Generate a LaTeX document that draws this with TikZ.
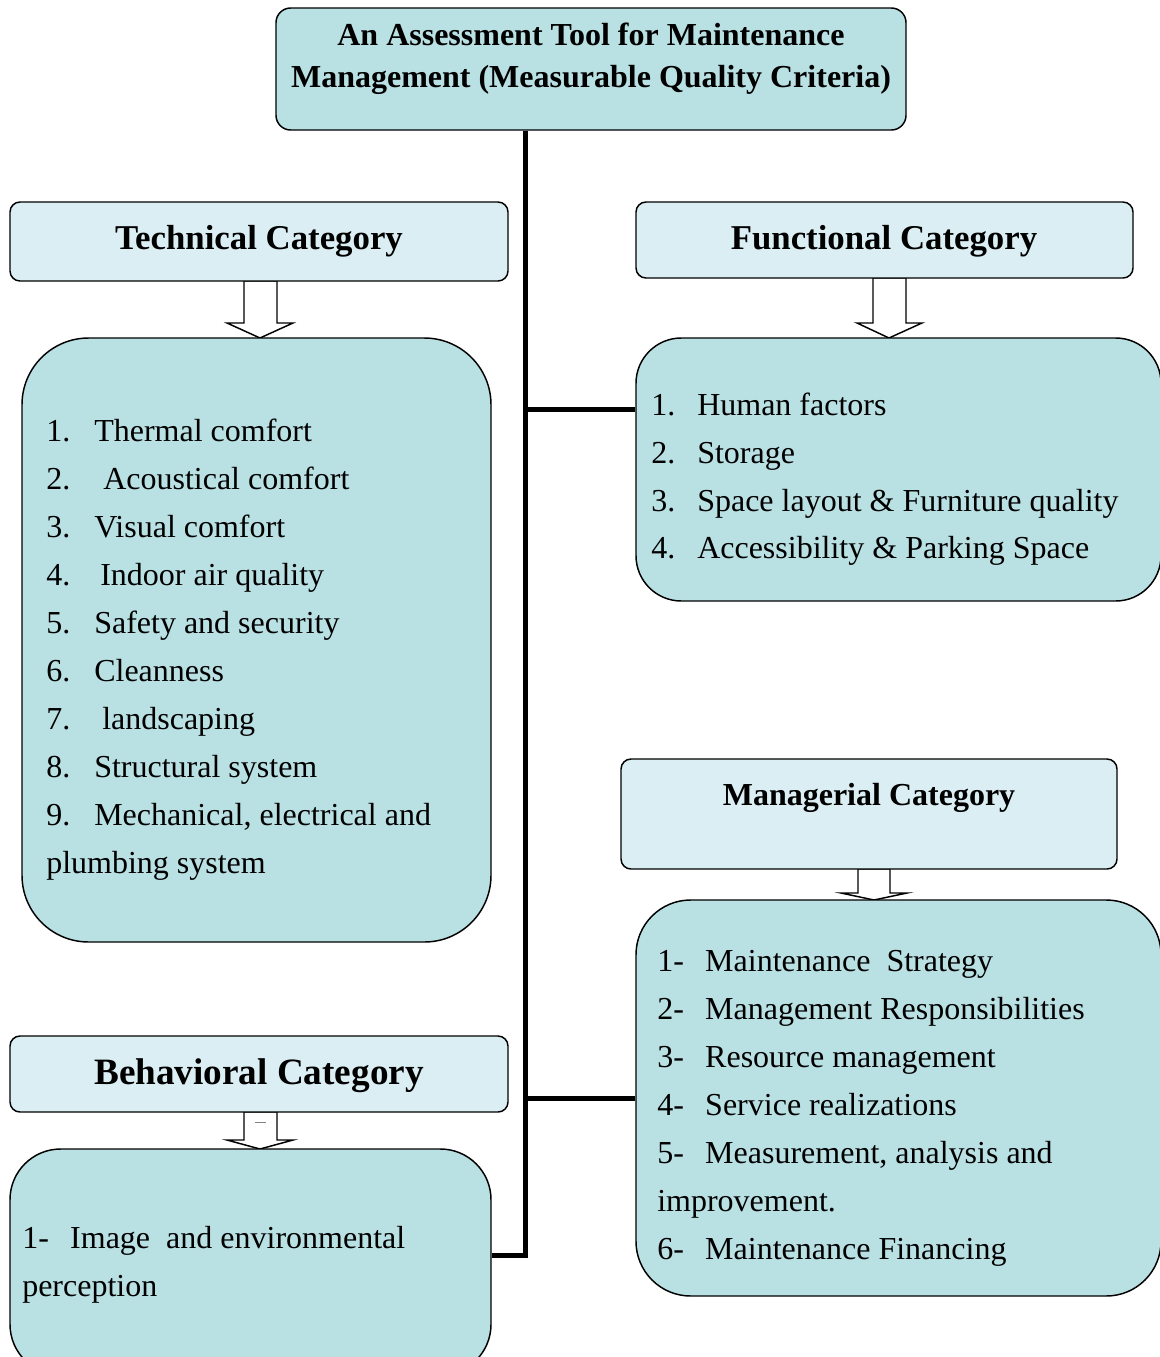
\documentclass[tikz,border=0pt]{standalone}
\usepackage{fontspec}
\setmainfont{Liberation Serif}
\definecolor{hdrfill}{HTML}{DAEEF3}
\definecolor{boxfill}{HTML}{B9E0E3}
\newcommand\bodyfont{\fontsize{24}{28}\selectfont}
\newcommand\hdrfont{\fontsize{26.1}{30}\selectfont\bfseries}
\newcommand\num[2]{\makebox[#1][l]{#2}}
\begin{document}
\begin{tikzpicture}[x=0.75pt,y=-0.75pt,
  titlebox/.style={draw=black,line width=1.1pt,fill=boxfill,rounded corners=11pt,inner sep=0pt},
  hdrbox/.style={draw=black,line width=1.1pt,fill=hdrfill,rounded corners=7.5pt,inner sep=0pt},
  listbox/.style={draw=black,line width=1.1pt,fill=boxfill,inner sep=0pt},
  blockarrow/.style={draw=black,line width=1.1pt,fill=white,line join=miter},
  trunk/.style={line width=3.75pt},
  lbl/.style={anchor=base west,inner sep=0pt,font=\bodyfont},
  hdr/.style={anchor=base,inner sep=0pt,font=\hdrfont}]
\useasboundingbox (0,0) rectangle (1160,1357);

% block arrows between headings and lists
\filldraw[blockarrow] (244,281) -- (244,323) -- (227,323) -- (260,338) -- (293,323) -- (277,323) -- (277,281) -- cycle;
\filldraw[blockarrow] (873,278) -- (873,323) -- (857,323) -- (889,338) -- (922,323) -- (906,323) -- (906,278) -- cycle;
\filldraw[blockarrow] (858,869) -- (858,893) -- (841,893) -- (874,900) -- (907,893) -- (890,893) -- (890,869) -- cycle;
\filldraw[blockarrow] (244,1112) -- (244,1140) -- (227,1140) -- (260,1149) -- (293,1140) -- (277,1140) -- (277,1112) -- cycle;
\draw[gray,line width=0.6pt] (255,1122) -- (266,1122);

% top box
\node[titlebox,minimum width=472.5pt,minimum height=91.5pt] (top) at (591,69) {};
\node[hdr,font=\fontsize{24}{28}\selectfont\bfseries] (tl1) at (591,45) {An Assessment Tool for Maintenance};
\node[hdr,font=\fontsize{24}{28}\selectfont\bfseries] (tl2) at (591,87) {Management (Measurable Quality Criteria)};

% headings
\node[hdrbox,minimum width=373.5pt,minimum height=59.25pt] (tech) at (259,241.5) {};
\node[hdr] (techt) at (259,249) {Technical Category};
\node[hdrbox,minimum width=372.75pt,minimum height=57pt] (func) at (884.5,240) {};
\node[hdr] (funct) at (884,249) {Functional Category};
\node[hdrbox,minimum width=372pt,minimum height=82.5pt] (man) at (869,814) {};
\node[hdr,font=\fontsize{24}{28}\selectfont\bfseries] (mant) at (869,805) {Managerial Category};
\node[hdrbox,minimum width=373.5pt,minimum height=57pt] (beh) at (259,1074) {};
\node[hdr,font=\fontsize{27.9}{32}\selectfont\bfseries] (beht) at (259,1084) {Behavioral Category};

% list boxes
\node[listbox,rounded corners=50pt,minimum width=351.75pt,minimum height=453pt] (techc) at (256.5,640) {};
\node[listbox,rounded corners=34pt,minimum width=393.75pt,minimum height=197.25pt] (funcc) at (898.5,469.5) {};
\node[listbox,rounded corners=41pt,minimum width=393.75pt,minimum height=297pt] (manc) at (898.5,1098) {};
\node[listbox,rounded corners=38pt,minimum width=360.75pt,minimum height=169.5pt] (behc) at (250.5,1262) {};

% connecting trunk
\coordinate (tk) at (525,1255);
\coordinate (fb) at (525,409);
\draw[trunk] (top.south -| tk) -- (tk) -- (behc.east |- tk);
\draw[trunk] (fb) -- (funcc.west |- fb);
\draw[trunk] (manc.west -| tk) -- (manc.west);

% technical items
\node[lbl] (t1) at (46,441) {\num{36pt}{1.}Thermal comfort};
\node[lbl] (t2) at (46,489) {\num{42.75pt}{2.}Acoustical comfort};
\node[lbl] (t3) at (46,537) {\num{36pt}{3.}Visual comfort};
\node[lbl] (t4) at (46,585) {\num{40.5pt}{4.}Indoor air quality};
\node[lbl] (t5) at (46,633) {\num{36pt}{5.}Safety and security};
\node[lbl] (t6) at (46,681) {\num{36pt}{6.}Cleanness};
\node[lbl] (t7) at (46,729) {\num{42pt}{7.}landscaping};
\node[lbl] (t8) at (46,777) {\num{36pt}{8.}Structural system};
\node[lbl] (t9) at (46,825) {\num{36pt}{9.}Mechanical, electrical and};
\node[lbl] (t10) at (46,873) {plumbing system};

% functional items
\node[lbl] (f1) at (651,415) {\num{34.5pt}{1.}Human factors};
\node[lbl] (f2) at (651,463) {\num{34.5pt}{2.}Storage};
\node[lbl] (f3) at (651,511) {\num{34.5pt}{3.}Space layout \& Furniture quality};
\node[lbl] (f4) at (651,558) {\num{34.5pt}{4.}Accessibility \& Parking Space};

% managerial items
\node[lbl] (m1) at (657,971) {\num{36pt}{1-}Maintenance\ \ Strategy};
\node[lbl] (m2) at (657,1019) {\num{36pt}{2-}Management Responsibilities};
\node[lbl] (m3) at (657,1067) {\num{36pt}{3-}Resource management};
\node[lbl] (m4) at (657,1115) {\num{36pt}{4-}Service realizations};
\node[lbl] (m5) at (657,1163) {\num{36pt}{5-}Measurement, analysis and};
\node[lbl] (m6) at (657,1211) {improvement.};
\node[lbl] (m7) at (657,1259) {\num{36pt}{6-}Maintenance Financing};

% behavioral items
\node[lbl] (b1) at (22,1248) {\num{36pt}{1-}Image\ \ and environmental};
\node[lbl] (b2) at (22,1296) {perception};
\end{tikzpicture}
\end{document}
